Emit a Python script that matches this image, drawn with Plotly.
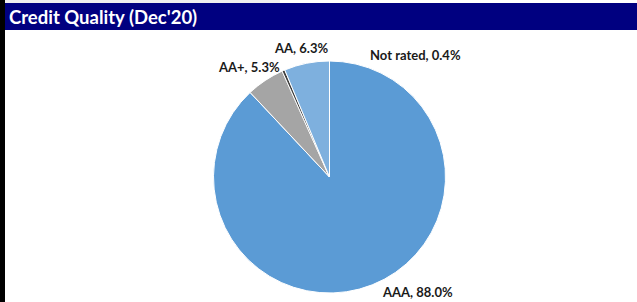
import plotly.graph_objects as go

labels = ["AAA", "AA+", "Not rated", "AA"]
values = [88.0, 5.3, 0.4, 6.3]
colors = ["#5B9BD5", "#A5A5A5", "#3F3F3F", "#7EB0DE"]

# label anchor positions (pixels from top-left) - layout only
label_pos = [(417, 292), (249, 67), (416, 55), (301, 48)]

W, H = 637, 302
cx, cy, r = 329.5, 177, 116

fig = go.Figure()
fig.add_trace(go.Pie(
    labels=labels, values=values, sort=False, direction="clockwise", rotation=0,
    marker=dict(colors=colors, line=dict(color="white", width=1)),
    textinfo="none", hoverinfo="label+percent", showlegend=False,
    domain=dict(x=[(cx - r) / W, (cx + r) / W], y=[1 - (cy + r) / H, 1 - (cy - r) / H]),
))

annotations = []
for lab, val, (px, py) in zip(labels, values, label_pos):
    annotations.append(dict(
        text=f"<b>{lab}, {val:.1f}%</b>", x=px / W, y=1 - py / H, xref="paper", yref="paper",
        showarrow=False, xanchor="center", yanchor="middle",
        font=dict(family="Lato", size=13, color="#1a1a1a"),
    ))
annotations.append(dict(
    text="<b>Credit Quality (Dec'20)</b>", x=7 / W, y=1 - 17 / H, xref="paper", yref="paper",
    showarrow=False, xanchor="left", yanchor="middle",
    font=dict(family="Lato", size=18.5, color="white"),
))

shapes = [
    dict(type="rect", xref="paper", yref="paper", x0=5 / W, x1=280 / W, y0=1 - 3 / H, y1=1,
         fillcolor="#EFEFEF", line=dict(width=0), layer="below"),
    dict(type="rect", xref="paper", yref="paper", x0=5 / W, x1=1, y0=1 - 30 / H, y1=1 - 3 / H,
         fillcolor="#000080", line=dict(width=0), layer="below"),
    dict(type="rect", xref="paper", yref="paper", x0=0, x1=5 / W, y0=0, y1=1,
         fillcolor="black", line=dict(width=0), layer="below"),
]

fig.update_layout(
    width=W, height=H, autosize=False,
    margin=dict(l=0, r=0, t=0, b=0),
    paper_bgcolor="white", plot_bgcolor="white",
    annotations=annotations, shapes=shapes,
)
fig.write_html("out.html", config={"displayModeBar": False},
               post_script="document.body.style.margin='0';document.body.style.overflow='hidden';")
